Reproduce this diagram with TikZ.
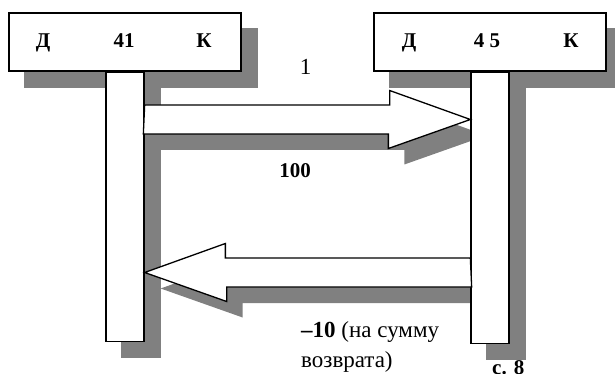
\documentclass[tikz,border=0pt]{standalone}
\usepackage{fontspec}
\setmainfont{Liberation Serif}
\usetikzlibrary{positioning, backgrounds}

\begin{document}
\begin{tikzpicture}[
    x=1pt, y=-1pt,
    acct/.style={rectangle, draw, fill=white, line width=1.3pt, minimum width=232pt, minimum height=58pt, inner sep=0pt},
    column/.style={rectangle, draw, fill=white, line width=1.3pt, minimum width=38pt, anchor=north, inner sep=0pt},
    flow/.style={draw, fill=white, line width=1.3pt, line join=miter},
    dropshade/.style={fill=black!50, draw=none, transform canvas={shift={(16,16)}}},
    hdr/.style={font=\bfseries\fontsize{21}{25}\selectfont, anchor=base, inner sep=0pt},
    note/.style={font=\fontsize{23}{30}\selectfont, inner sep=0pt}
]
\useasboundingbox (0,0) rectangle (615,374);

% account headers
\node[acct] (acc41) at (125,42) {};
\node[acct] (acc45) at (490,42) {};
\node[hdr] (d41) at (43,48) {Д};
\node[hdr] (n41) at (124,48) {41};
\node[hdr] (k41) at (204,48) {К};
\node[hdr] (d45) at (409,48) {Д};
\node[hdr] (n45) at (487,48) {4 5};
\node[hdr] (k45) at (571,48) {К};

% columns
\node[column, minimum height=269pt] (col41) at (acc41.south) {};
\node[column, minimum height=271pt] (col45) at (acc45.south) {};

% flows
\coordinate (tail1) at (col41.east |- 0,119.5);
\coordinate (tip1) at (col45.west |- 0,119.5);
\coordinate (tail2) at (col45.west |- 0,272.5);
\coordinate (tip2) at (col41.east |- 0,272.5);

\newcommand{\flowone}{(tail1) ++(0,-14.5) -- ++(245,0) -- ++(0,-14.5) -- (tip1) -- ++(-82,29) -- ++(0,-14.5) -- ++(-245,0) -- cycle}
\newcommand{\flowtwo}{(tail2) ++(0,-14.5) -- ++(-245,0) -- ++(0,-14.5) -- (tip2) -- ++(82,29) -- ++(0,-14.5) -- ++(245,0) -- cycle}
\draw[flow] \flowone;
\draw[flow] \flowtwo;

% shadows
\begin{pgfonlayer}{background}
\fill[dropshade] (acc41.north west) rectangle (acc41.south east);
\fill[dropshade] (acc45.north west) rectangle (acc45.south east);
\fill[dropshade] (col41.north west) rectangle (col41.south east);
\fill[dropshade] (col45.north west) rectangle (col45.south east);
\fill[dropshade] \flowone;
\fill[dropshade] \flowtwo;
\end{pgfonlayer}

% labels
\node[note, anchor=base] (one) at (305.5,75) {1};
\node[hdr] (sum1) at (295,178) {100};
\node[note, anchor=base west, align=left] (sum2) at (301,367) {\textbf{–10} (на сумму\\возврата)};
\node[hdr, anchor=base west] (fig) at (492,374) {с. 8};
\end{tikzpicture}
\end{document}
